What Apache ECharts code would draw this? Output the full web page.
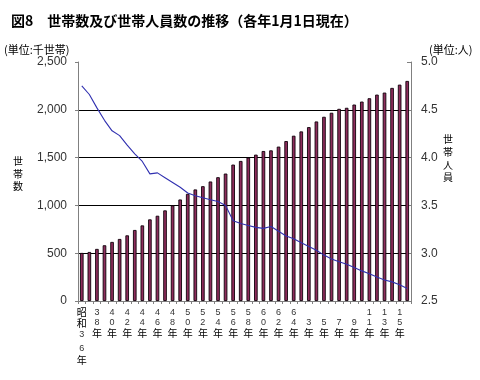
<!DOCTYPE html>
<html>
<head>
<meta charset="utf-8">
<script src="https://cdn.jsdelivr.net/npm/echarts@6/dist/echarts.min.js"></script>
<style>html,body{margin:0;padding:0;background:#fff}#c{width:480px;height:380px}</style>
</head>
<body>
<div id="c"></div>
<script>
// Categories: 昭和36年 .. 昭和64年, 平成2年 .. 平成16年 (each 1 Jan)
const categories = [
  '昭和36年','昭和37年','昭和38年','昭和39年','昭和40年','昭和41年','昭和42年','昭和43年','昭和44年','昭和45年',
  '昭和46年','昭和47年','昭和48年','昭和49年','昭和50年','昭和51年','昭和52年','昭和53年','昭和54年','昭和55年',
  '昭和56年','昭和57年','昭和58年','昭和59年','昭和60年','昭和61年','昭和62年','昭和63年','昭和64年',
  '平成2年','平成3年','平成4年','平成5年','平成6年','平成7年','平成8年','平成9年','平成10年','平成11年',
  '平成12年','平成13年','平成14年','平成15年','平成16年'
];
// Tick labels shown on every other category
const tickLabels = ['昭和36年','38年','40年','42年','44年','46年','48年','50年','52年','54年','56年','58年',
  '60年','62年','64年','3年','5年','7年','9年','11年','13年','15年'];
// 世帯数 (千世帯)
const households = [
  503, 513, 545, 583, 618, 649, 687, 743, 791, 854,
  892, 948, 1000, 1062, 1121, 1167, 1201, 1250, 1295, 1333,
  1427, 1465, 1500, 1531, 1569, 1576, 1615, 1673, 1729,
  1774, 1819, 1878, 1927, 1969, 2010, 2021, 2055, 2086, 2121,
  2159, 2180, 2229, 2263, 2302
];
// 世帯人員 (人)
const membersPerHousehold = [
  4.75, 4.66, 4.52, 4.39, 4.28, 4.23, 4.13, 4.04, 3.96, 3.83,
  3.84, 3.79, 3.74, 3.69, 3.63, 3.60, 3.58, 3.56, 3.54, 3.50,
  3.34, 3.31, 3.29, 3.27, 3.26, 3.28, 3.23, 3.18, 3.15,
  3.11, 3.07, 3.03, 2.98, 2.94, 2.91, 2.885, 2.85, 2.815, 2.785,
  2.75, 2.72, 2.70, 2.67, 2.63
];
const leftAxisTicks = { min: 0, max: 2500, interval: 500 };
const rightAxisTicks = { min: 2.5, max: 5.0, interval: 0.5 };

const CJK = '"Noto Sans CJK JP", sans-serif';
const NUM = '"Liberation Sans", Arial, sans-serif';

function vertical(lbl) {
  if (lbl.indexOf('昭和') === 0) {
    const n = lbl.replace('昭和', '').replace('年', '').split('');
    return '{c|昭}\n{c|和}\n{g|' + n[0] + '}\n{g|' + n[1] + '}\n{c|年}';
  }
  const num = lbl.replace('年', '');
  const digits = num.length === 1 ? [' ', num] : num.split('');
  return digits.map(d => '{d|' + d + '}').join('\n') + '\n{c|年}';
}

const chart = echarts.init(document.getElementById('c'), null, { renderer: 'canvas' });
chart.setOption({
  animation: false,
  backgroundColor: '#fff',
  title: {
    text: '図8　世帯数及び世帯人員数の推移（各年1月1日現在）',
    left: 6, top: 9,
    textStyle: { fontFamily: CJK, fontSize: 14, fontWeight: 'bold', color: '#000' }
  },
  graphic: [
    { type: 'text', left: 4, top: 44, style: { text: '(単位:千世帯)', font: '11px ' + CJK, fill: '#000' } },
    { type: 'text', left: 429, top: 44, style: { text: '(単位:人)', font: '11px ' + CJK, fill: '#000' } },
    { type: 'text', left: 13, top: 155, style: { text: '世\n帯\n数', font: '10px ' + CJK, fill: '#000', lineHeight: 12.5 } },
    { type: 'text', left: 443, top: 133, style: { text: '世\n帯\n人\n員', font: '10px ' + CJK, fill: '#000', lineHeight: 12.7 } }
  ],
  grid: { left: 78, right: 69, top: 62, bottom: 79, containLabel: false },
  xAxis: {
    type: 'category',
    data: categories,
    boundaryGap: true,
    axisLine: { lineStyle: { color: '#808080', width: 1 } },
    axisTick: { show: true, interval: 0, length: 3, lineStyle: { color: '#808080' } },
    axisLabel: {
      interval: 1,
      margin: 6,
      formatter: function (v, i) {
        const k = i / 2;
        if (i % 2 !== 0 || k >= tickLabels.length) return '';
        return vertical(tickLabels[k]);
      },
      rich: {
        d: { fontFamily: NUM, fontSize: 9, lineHeight: 10.5, color: '#333' },
        c: { fontFamily: CJK, fontSize: 10, lineHeight: 10.5, color: '#000' },
        g: { fontFamily: NUM, fontSize: 9, lineHeight: 13.5, color: '#333' }
      }
    }
  },
  yAxis: [
    {
      type: 'value', min: leftAxisTicks.min, max: leftAxisTicks.max, interval: leftAxisTicks.interval,
      axisLine: { show: true, lineStyle: { color: '#808080' } },
      axisTick: { show: true, inside: false, length: 3, lineStyle: { color: '#808080' } },
      axisLabel: {
        margin: 11, color: '#333', fontFamily: NUM, fontSize: 12,
        formatter: v => v.toLocaleString('en-US')
      },
      splitLine: { show: true, showMinLine: false, showMaxLine: false, lineStyle: { color: '#000', width: 1 } }
    },
    {
      type: 'value', min: rightAxisTicks.min, max: rightAxisTicks.max, interval: rightAxisTicks.interval,
      position: 'right',
      axisLine: { show: true, lineStyle: { color: '#808080' } },
      axisTick: { show: true, inside: true, length: 4, lineStyle: { color: '#808080' } },
      axisLabel: {
        margin: 10, color: '#333', fontFamily: NUM, fontSize: 12,
        formatter: v => v.toFixed(1)
      },
      splitLine: { show: false }
    }
  ],
  series: [
    {
      name: '世帯数', type: 'bar', yAxisIndex: 0, data: households,
      barWidth: 3.6,
      itemStyle: { color: '#8e2c5c', borderColor: '#10000a', borderWidth: 0.9 }
    },
    {
      name: '世帯人員', type: 'line', yAxisIndex: 1, data: membersPerHousehold,
      showSymbol: false, symbol: 'none',
      lineStyle: { color: '#3030b0', width: 1.1 },
      z: 3
    }
  ]
});
</script>
</body>
</html>
